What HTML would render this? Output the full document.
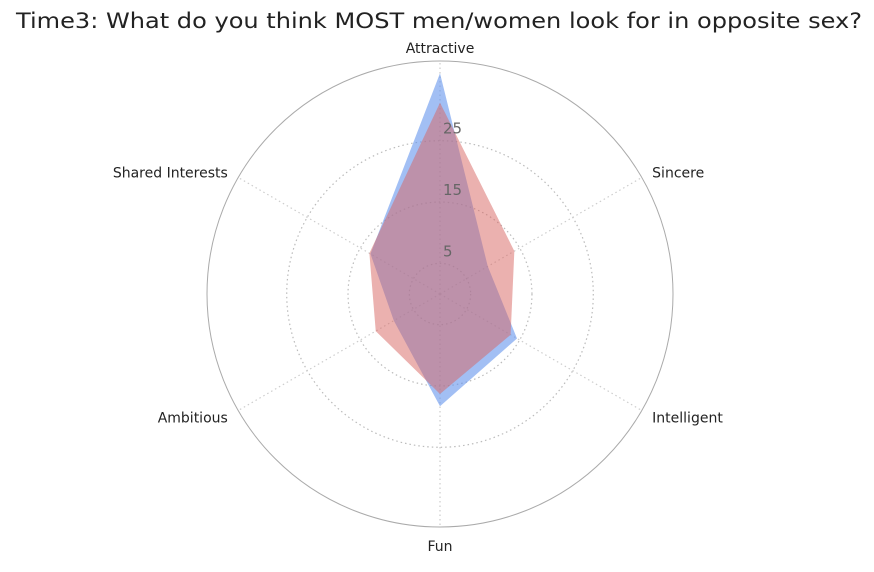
<!DOCTYPE html>
<html><head><meta charset="utf-8"><style>
body{margin:0;background:#fff;width:874px;height:572px;overflow:hidden}
svg{display:block}
text{font-family:"DejaVu Sans","Liberation Sans",sans-serif}
</style></head><body>
<svg id="chart" width="874" height="572">
<text x="439" y="28" text-anchor="middle" font-size="21" textLength="846" lengthAdjust="spacingAndGlyphs" fill="#222">Time3: What do you think MOST men/women look for in opposite sex?</text>
<g id="grid"></g><g id="series"></g><g id="labels"></g>
</svg>
<script>
const categories=["Attractive","Sincere","Intelligent","Fun","Ambitious","Shared Interests"];
const blueValues=[36,9,14.5,18.3,8.7,13.1];
const redValues=[31.2,14,13.3,16.3,12.1,13.3];
const tickValues=[5,15,25];
const tickLabels=["5","15","25"];
const rMax=38;
const cx=440,cy=294,R=233;
const NS="http://www.w3.org/2000/svg";
function rs(v){return v/rMax*R;}
function ang(i){return Math.PI/2-i*2*Math.PI/categories.length;}
function pt(i,v){const a=ang(i),r=rs(v);return [cx+r*Math.cos(a),cy-r*Math.sin(a)];}
function mk(tag,attrs,parent){const e=document.createElementNS(NS,tag);for(const k in attrs)e.setAttribute(k,attrs[k]);parent.appendChild(e);return e;}
const grid=document.getElementById('grid'),ser=document.getElementById('series'),lab=document.getElementById('labels');
tickValues.forEach((t,i)=>{
  const c=mk('circle',{cx:cx,cy:cy,r:rs(t),fill:'none',stroke:'#bbb','stroke-dasharray':'1.5,3','stroke-width':1.2},grid);
  
  
});
const oc=mk('circle',{cx:cx,cy:cy,r:R,fill:'none',stroke:'#aaa','stroke-width':1},grid);


categories.forEach((c,i)=>{
  const [x,y]=pt(i,rMax);
  const l=mk('line',{x1:cx,y1:cy,x2:x,y2:y,stroke:'#ccc','stroke-dasharray':'1.5,3','stroke-width':1.2},grid);
  
  
});
function poly(vals,fill,name){
  const p=mk('polygon',{points:vals.map((v,i)=>pt(i,v).join(',')).join(' '),fill:fill},ser);
  
  
}
poly(blueValues,'rgba(100,149,237,0.6)','series-blue');
poly(redValues,'rgba(215,100,95,0.5)','series-red');
tickValues.forEach((t,i)=>{
  const y=cy-rs(t)-7;
  const tx=mk('text',{x:443,y:y,'font-size':15,fill:'#666'},lab);
  tx.textContent=tickLabels[i];
  
  
});
categories.forEach((c,i)=>{
  const a=ang(i),r=R+12;
  const x=cx+r*Math.cos(a),y=cy-r*Math.sin(a);
  let anchor='middle';
  if(Math.cos(a)>0.1)anchor='start';else if(Math.cos(a)<-0.1)anchor='end';
  let dy=6;if(Math.sin(a)>0.9)dy=4;if(Math.sin(a)<-0.9)dy=12;
  const t=mk('text',{x:x,y:y+dy,'font-size':14,fill:'#222','text-anchor':anchor},lab);
  t.textContent=c;
  
  
});
</script>
</body></html>
